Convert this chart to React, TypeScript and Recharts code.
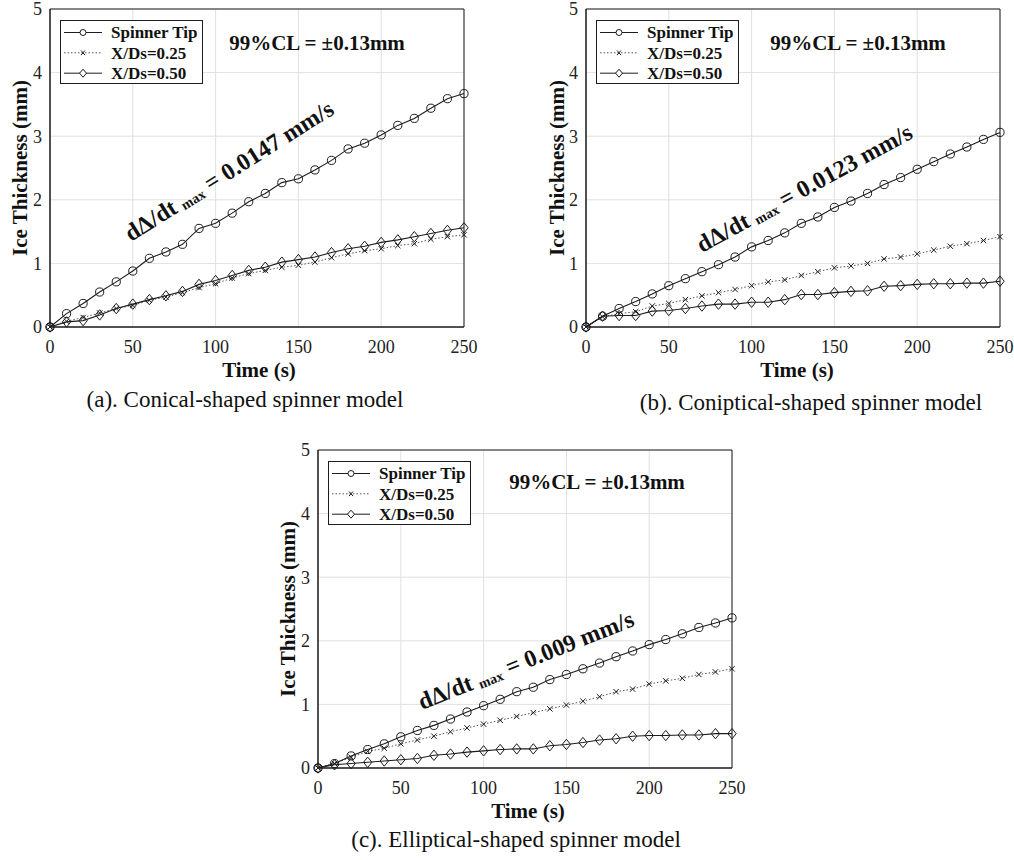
import React from "react";
import {
  CartesianGrid,
  Legend,
  Line,
  LineChart,
  ReferenceArea,
  XAxis,
  YAxis
} from "recharts";

const time = [0, 10, 20, 30, 40, 50, 60, 70, 80, 90, 100, 110, 120, 130, 140, 150, 160, 170, 180, 190, 200, 210, 220, 230, 240, 250];

// (a) conical
const conicalTip = [0, 0.21, 0.37, 0.55, 0.71, 0.88, 1.08, 1.18, 1.3, 1.55, 1.63, 1.79, 1.97, 2.1, 2.27, 2.33, 2.47, 2.62, 2.8, 2.89, 3.02, 3.17, 3.28, 3.44, 3.59, 3.67];
const conicalQuarter = [0, 0.09, 0.15, 0.22, 0.29, 0.34, 0.42, 0.47, 0.54, 0.62, 0.68, 0.77, 0.84, 0.89, 0.94, 0.97, 1.02, 1.09, 1.15, 1.2, 1.23, 1.28, 1.31, 1.38, 1.42, 1.45];
const conicalHalf = [0, 0.08, 0.1, 0.19, 0.29, 0.36, 0.43, 0.49, 0.56, 0.67, 0.73, 0.81, 0.89, 0.94, 1.02, 1.06, 1.1, 1.17, 1.23, 1.27, 1.33, 1.37, 1.42, 1.47, 1.52, 1.56];

// (b) coniptical
const conipticalTip = [0, 0.17, 0.29, 0.4, 0.52, 0.65, 0.76, 0.87, 0.98, 1.1, 1.26, 1.36, 1.48, 1.63, 1.73, 1.88, 1.98, 2.1, 2.24, 2.35, 2.48, 2.6, 2.72, 2.83, 2.95, 3.06];
const conipticalQuarter = [0, 0.16, 0.21, 0.24, 0.33, 0.37, 0.43, 0.49, 0.54, 0.59, 0.65, 0.71, 0.74, 0.81, 0.87, 0.93, 0.96, 1.0, 1.07, 1.1, 1.15, 1.21, 1.27, 1.31, 1.36, 1.42];
const conipticalHalf = [0, 0.17, 0.18, 0.18, 0.25, 0.26, 0.29, 0.33, 0.36, 0.36, 0.39, 0.39, 0.43, 0.51, 0.51, 0.54, 0.56, 0.57, 0.64, 0.65, 0.67, 0.68, 0.68, 0.69, 0.69, 0.72];

// (c) elliptical
const ellipticalTip = [0, 0.07, 0.19, 0.29, 0.38, 0.49, 0.59, 0.67, 0.77, 0.88, 0.98, 1.08, 1.2, 1.27, 1.39, 1.47, 1.56, 1.65, 1.75, 1.84, 1.94, 2.02, 2.11, 2.21, 2.28, 2.36];
const ellipticalQuarter = [0, 0.07, 0.17, 0.26, 0.31, 0.38, 0.44, 0.5, 0.57, 0.63, 0.69, 0.75, 0.81, 0.87, 0.93, 0.99, 1.05, 1.12, 1.2, 1.24, 1.32, 1.37, 1.41, 1.47, 1.51, 1.56];
const ellipticalHalf = [0, 0.05, 0.07, 0.09, 0.11, 0.13, 0.15, 0.2, 0.22, 0.25, 0.27, 0.29, 0.3, 0.3, 0.35, 0.37, 0.4, 0.44, 0.46, 0.5, 0.51, 0.51, 0.52, 0.52, 0.54, 0.54];

const xTicks = [0, 50, 100, 150, 200, 250];
const yTicks = [0, 1, 2, 3, 4, 5];
const seriesNames = ["Spinner Tip", "X/Ds=0.25", "X/Ds=0.50"];
const captions = [
  "(a). Conical-shaped spinner model",
  "(b). Coniptical-shaped spinner model",
  "(c). Elliptical-shaped spinner model"
];
const slopes = ["0.0147", "0.0123", "0.009"];
const clText = "99%CL = \u00b10.13mm";
const xTitle = "Time (s)";
const yTitle = "Ice Thickness (mm)";

const SERIF = "'Liberation Serif', 'Times New Roman', serif";
const INK = "#1c1c1c";

const CircleDot = (props: any) => {
  const { cx, cy } = props;
  if (cx == null || cy == null) return <g />;
  return <circle cx={cx} cy={cy} r={4.1} fill="none" stroke={INK} strokeWidth={1} />;
};

const CrossDot = (props: any) => {
  const { cx, cy } = props;
  if (cx == null || cy == null) return <g />;
  const s = 2.7;
  return (
    <g stroke={INK} strokeWidth={1}>
      <line x1={cx - s} y1={cy - s} x2={cx + s} y2={cy + s} />
      <line x1={cx - s} y1={cy + s} x2={cx + s} y2={cy - s} />
    </g>
  );
};

const DiamondDot = (props: any) => {
  const { cx, cy } = props;
  if (cx == null || cy == null) return <g />;
  return (
    <path
      d={`M${cx},${cy - 5.2}L${cx + 4.2},${cy}L${cx},${cy + 5.2}L${cx - 4.2},${cy}Z`}
      fill="none"
      stroke={INK}
      strokeWidth={1}
    />
  );
};

function LegendBox() {
  const rows = [12.5, 32.8, 53.2];
  return (
    <svg width={143} height={64} style={{ display: "block" }}>
      <rect x={0.5} y={0.5} width={142} height={63} fill="#fff" stroke={INK} strokeWidth={1} />
      {seriesNames.map((name, i) => {
        const y = rows[i];
        return (
          <g key={name}>
            <line
              x1={4}
              x2={42}
              y1={y}
              y2={y}
              stroke={i === 1 ? "#555" : INK}
              strokeWidth={1}
              strokeDasharray={i === 1 ? "1.5 2" : undefined}
            />
            {i === 0 && <circle cx={23} cy={y} r={3} fill="#fff" stroke={INK} />}
            {i === 1 && (
              <g stroke={INK}>
                <line x1={21} y1={y - 2.3} x2={25} y2={y + 2.3} />
                <line x1={21} y1={y + 2.3} x2={25} y2={y - 2.3} />
              </g>
            )}
            {i === 2 && (
              <path d={`M23,${y - 4}L26.5,${y}L23,${y + 4}L19.5,${y}Z`} fill="#fff" stroke={INK} />
            )}
            <text x={51} y={y + 5.8} style={{ fontFamily: SERIF, fontWeight: 700, fontSize: 17 }} fill="#111">
              {name}
            </text>
          </g>
        );
      })}
    </svg>
  );
}

type PanelProps = {
  left: number;
  top: number;
  tip: number[];
  quarter: number[];
  half: number[];
  caption: string;
  slope: string;
  yTitleX: number;
  xTitleX: number;
  captionX: number;
  captionY: number;
  clX: number;
  clY: number;
  noteX: number;
  noteY: number;
  noteAngle: number;
};

function Panel(p: PanelProps) {
  const rows = time.map((t, i) => ({ t, tip: p.tip[i], quarter: p.quarter[i], half: p.half[i] }));
  const tickStyle = { fill: "#222", fontSize: 18, fontFamily: SERIF, style: { fontFamily: SERIF } };
  const bold = { fontFamily: SERIF, fontWeight: 700 } as const;
  return (
    <div style={{ position: "absolute", left: p.left, top: p.top, width: 478, height: 419, fontFamily: SERIF }}>
      <LineChart width={478} height={380} data={rows} margin={{ top: 9, right: 14, bottom: 23, left: 0 }}>
        <CartesianGrid stroke="#e0e0e0" strokeWidth={1} />
        <XAxis
          dataKey="t"
          type="number"
          domain={[0, 250]}
          ticks={xTicks}
          interval={0}
          tick={tickStyle}
          tickLine={false}
          tickMargin={7}
          height={30}
          axisLine={{ stroke: INK }}
        />
        <YAxis
          type="number"
          domain={[0, 5]}
          ticks={yTicks}
          interval={0}
          width={50}
          tick={tickStyle}
          tickLine={false}
          axisLine={{ stroke: INK }}
        />
        <ReferenceArea x1={0} x2={250} y1={0} y2={5} fill="none" stroke={INK} strokeWidth={1} ifOverflow="visible" />
        <Legend
          layout="vertical"
          align="center"
          verticalAlign="middle"
          wrapperStyle={{ left: 60, top: 20, width: 143, height: 64 }}
          content={() => <LegendBox />}
        />
        <Line
          dataKey="quarter"
          name={seriesNames[1]}
          stroke="#555"
          strokeWidth={1}
          strokeDasharray="1.5 2"
          dot={CrossDot}
          activeDot={false}
          isAnimationActive={false}
        />
        <Line
          dataKey="half"
          name={seriesNames[2]}
          stroke={INK}
          strokeWidth={1.1}
          dot={DiamondDot}
          activeDot={false}
          isAnimationActive={false}
        />
        <Line
          dataKey="tip"
          name={seriesNames[0]}
          stroke={INK}
          strokeWidth={1.1}
          dot={CircleDot}
          activeDot={false}
          isAnimationActive={false}
        />
      </LineChart>
      <svg width={478} height={419} style={{ position: "absolute", left: 0, top: 0, pointerEvents: "none" }}>
        <text
          x={p.yTitleX + 7}
          y={168}
          transform={`rotate(-90 ${p.yTitleX + 7} 168)`}
          textAnchor="middle"
          style={{ ...bold, fontSize: 21 }}
          fill="#111"
        >
          {yTitle}
        </text>
        <text x={p.xTitleX} y={377} textAnchor="middle" style={{ ...bold, fontSize: 21 }} fill="#111">
          {xTitle}
        </text>
        <text x={p.captionX} y={p.captionY + 7} textAnchor="middle" style={{ fontFamily: SERIF, fontSize: 23 }} fill="#111">
          {p.caption}
        </text>
        <text x={p.clX} y={p.clY + 7} textAnchor="middle" style={{ ...bold, fontSize: 21 }} fill="#111">
          {clText}
        </text>
        <text
          x={p.noteX}
          y={p.noteY}
          transform={`rotate(${p.noteAngle} ${p.noteX} ${p.noteY})`}
          style={{ ...bold, fontSize: 24, whiteSpace: "pre" }}
          fill="#111"
        >
          <tspan>dΔ/dt </tspan>
          <tspan style={{ fontSize: 14 }} dy={2}>max</tspan>
          <tspan dy={-2}>{` = ${p.slope} mm/s`}</tspan>
        </text>
      </svg>
    </div>
  );
}

export default function App() {
  return (
    <div
      style={{
        position: "absolute",
        left: 0,
        top: 0,
        width: 1014,
        height: 860,
        overflow: "hidden",
        background: "#fff",
        fontFamily: SERIF
      }}
    >
      <Panel
        left={0}
        top={0}
        tip={conicalTip}
        quarter={conicalQuarter}
        half={conicalHalf}
        caption={captions[0]}
        slope={slopes[0]}
        yTitleX={20}
        xTitleX={259}
        captionX={245}
        captionY={400}
        clX={317}
        clY={43}
        noteX={131}
        noteY={242}
        noteAngle={-32.2}
      />
      <Panel
        left={536}
        top={0}
        tip={conipticalTip}
        quarter={conipticalQuarter}
        half={conipticalHalf}
        caption={captions[1]}
        slope={slopes[1]}
        yTitleX={21}
        xTitleX={261}
        captionX={275}
        captionY={403}
        clX={322}
        clY={43}
        noteX={166}
        noteY={253}
        noteAngle={-28.6}
      />
      <Panel
        left={268}
        top={441}
        tip={ellipticalTip}
        quarter={ellipticalQuarter}
        half={ellipticalHalf}
        caption={captions[2]}
        slope={slopes[2]}
        yTitleX={20}
        xTitleX={260}
        captionX={248}
        captionY={399}
        clX={329}
        clY={41}
        noteX={154}
        noteY={269}
        noteAngle={-21.6}
      />
    </div>
  );
}
